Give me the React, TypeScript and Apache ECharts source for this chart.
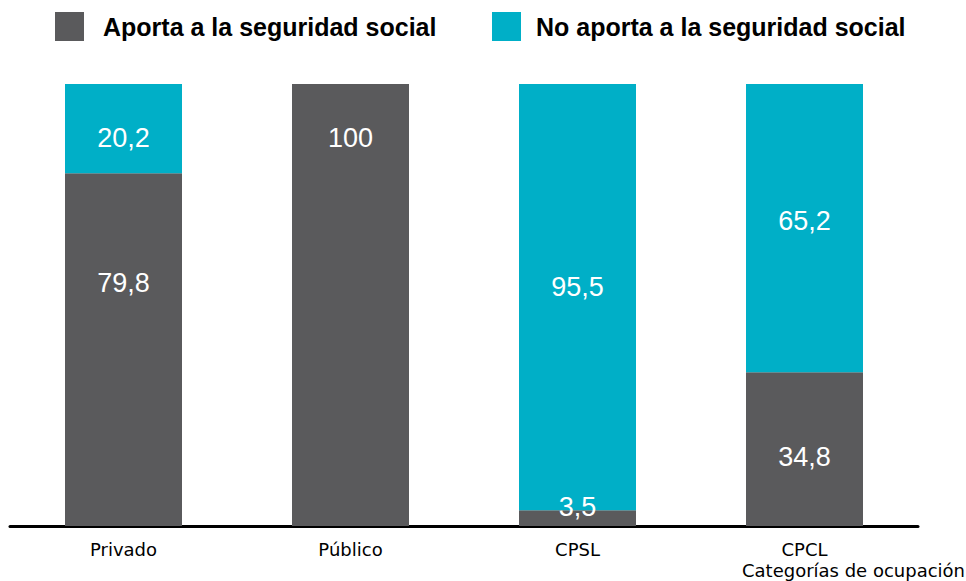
import React, { useEffect, useRef } from "react";
import * as echarts from "echarts";

const categories = ["Privado", "Público", "CPSL", "CPCL"];
const seriesNames = ["Aporta a la seguridad social", "No aporta a la seguridad social"];
const aporta = [79.8, 100, 3.5, 34.8];
const noAporta = [20.2, 0, 95.5, 65.2];
const axisName = "Categorías de ocupación";

// label vertical nudges (px) relative to the segment centre, as placed in the reference
const aportaLabelDy = [-67, -167, -11, 8];
const noAportaLabelDy = [9, 0, -10, -7];

const DARK = "#5A5A5C";
const CYAN = "#00AFC7";
const VALUE_FONT = "'Liberation Sans', Arial, sans-serif";

// 100% stacked: each column is drawn as a share of its total, labels show the published figure
const totals = categories.map((_, i) => aporta[i] + noAporta[i]);

const fmt = (p: any) => {
  const raw = p.data && p.data.raw;
  if (!raw) return "";
  return String(raw).replace(".", ",");
};

const toData = (vals: number[], dys: number[]) =>
  vals.map((v, i) => ({
    value: (v / totals[i]) * 100,
    raw: v,
    label: { offset: [0, dys[i]] },
  }));

export default function App() {
  const ref = useRef<HTMLDivElement>(null);
  useEffect(() => {
    if (!ref.current) return;
    const chart = echarts.init(ref.current, undefined, { renderer: "svg" });
    const legendText = {
      fontFamily: "'Liberation Sans', Arial, sans-serif",
      fontWeight: "bold" as const,
      fontSize: 25,
      color: "#000",
      padding: [0, 0, 0, 14],
    };
    const valueLabel = {
      show: true,
      position: "inside",
      color: "#fff",
      fontSize: 27,
      fontFamily: VALUE_FONT,
      formatter: fmt,
    };
    chart.setOption({
      animation: false,
      backgroundColor: "#fff",
      legend: [
        {
          data: [seriesNames[0]],
          left: 55,
          top: 12,
          padding: 0,
          icon: "rect",
          itemWidth: 29,
          itemHeight: 29,
          textStyle: legendText,
          selectedMode: false,
        },
        {
          data: [seriesNames[1]],
          left: 492,
          top: 12,
          padding: 0,
          icon: "rect",
          itemWidth: 29,
          itemHeight: 29,
          textStyle: { ...legendText, padding: [0, 0, 0, 10] },
          selectedMode: false,
        },
      ],
      grid: { left: 10, right: 48, top: 84, bottom: 55, containLabel: false },
      xAxis: {
        type: "category",
        data: categories,
        axisLine: { show: true, lineStyle: { color: "#000", width: 3 } },
        axisTick: { show: false },
        axisLabel: {
          color: "#000",
          fontSize: 18,
          fontFamily: "'DejaVu Sans', sans-serif",
          margin: 14,
        },
      },
      yAxis: {
        type: "value",
        min: 0,
        max: 100,
        show: false,
        splitLine: { show: false },
      },
      graphic: [
        {
          type: "text",
          right: 1,
          top: 561,
          style: {
            text: axisName,
            fill: "#000",
            fontSize: 18,
            fontFamily: "'DejaVu Sans', sans-serif",
          },
        },
      ],
      series: [
        {
          name: seriesNames[0],
          type: "bar",
          stack: "total",
          barWidth: 117,
          itemStyle: { color: DARK },
          label: valueLabel,
          data: toData(aporta, aportaLabelDy),
        },
        {
          name: seriesNames[1],
          type: "bar",
          stack: "total",
          barWidth: 117,
          itemStyle: { color: CYAN },
          label: valueLabel,
          data: toData(noAporta, noAportaLabelDy),
        },
      ],
    });
    return () => chart.dispose();
  }, []);
  return <div ref={ref} style={{ width: 966, height: 581, position: "absolute", left: 0, top: 0 }} />;
}
